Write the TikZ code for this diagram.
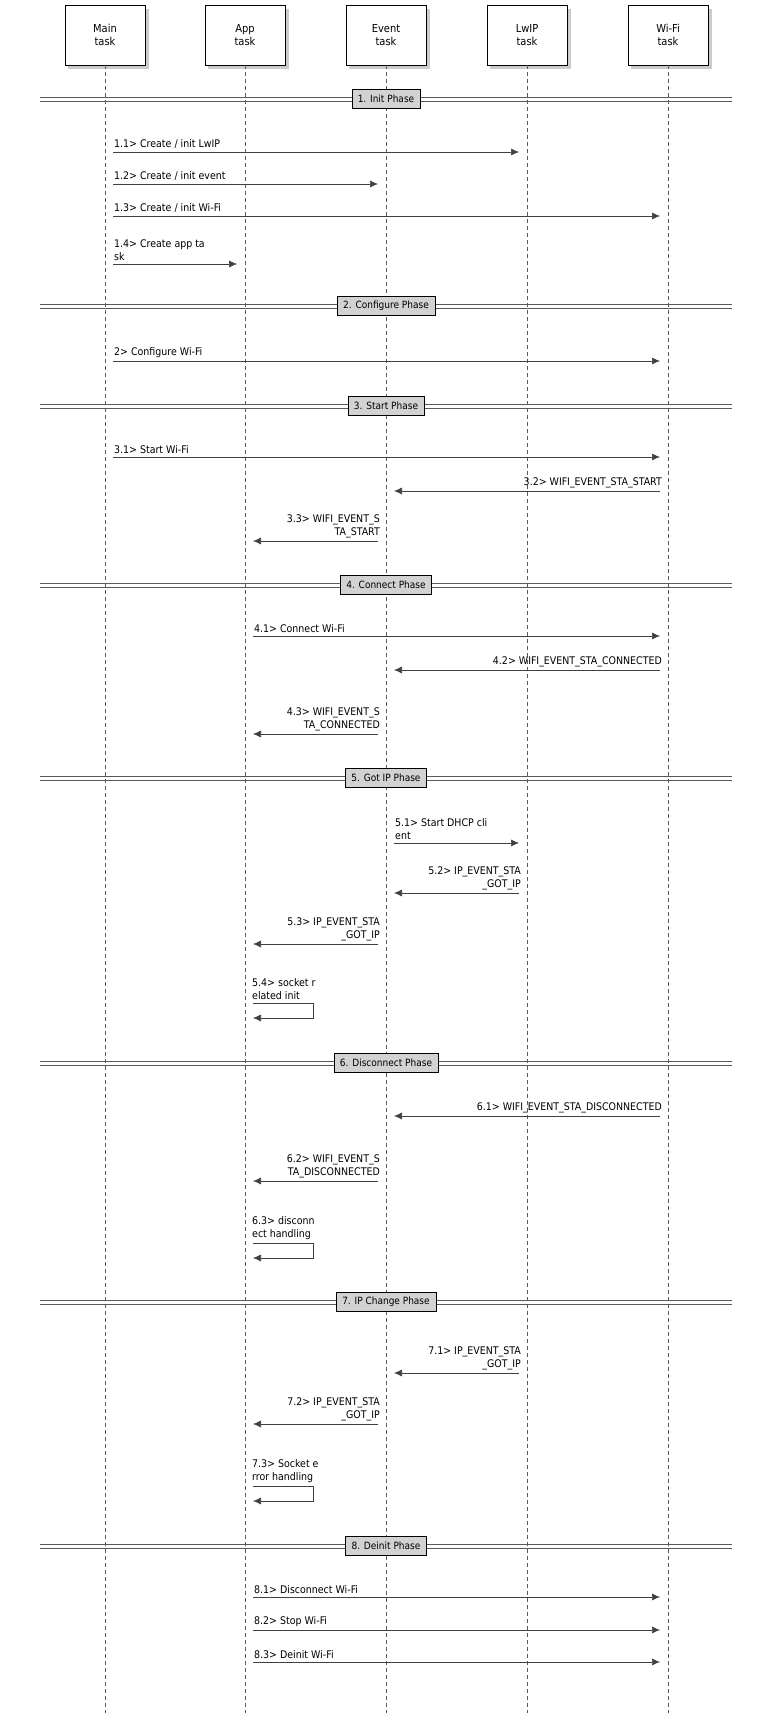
\documentclass[tikz,border=0pt]{standalone}
\usepackage{fontspec}
\setmainfont{DejaVu Sans Condensed}
\begin{document}
\begin{tikzpicture}[x=1pt,y=-1pt,
  task/.style={draw,fill=white,minimum width=80pt,minimum height=60pt,align=center,font=\fontsize{11}{13}\selectfont,line width=0.8pt},
  life/.style={gray!70!black,dashed,dash pattern=on 4pt off 3pt,line width=0.5pt},
  msg/.style={draw=black!75,line width=0.6pt,-{Latex[length=8pt,width=7pt]}},
  lbl/.style={inner sep=1pt,font=\fontsize{10.5}{13}\selectfont},
  phasebox/.style={draw,fill=gray!35,inner xsep=6pt,minimum height=19pt,font=\fontsize{10}{12}\selectfont}]
\usetikzlibrary{arrows.meta}
\useasboundingbox (0,0) rectangle (768,1713);
\foreach \n/\x/\t in {M/105/Main,A/245/App,E/386/Event,L/527/LwIP,W/668/Wi-Fi}{
  \fill[gray!40] (\x-37,9) rectangle (\x+44,69);
  \node[task] (\n) at (\x,35) {\t\\task};
  \coordinate (\n b) at (\x,1713);
  \draw[life] (\n.south) -- (\n b);
}
\newcommand{\phs}[3]{\draw[gray!70!black,line width=0.6pt] (40,#1-2) -- (732,#1-2) (40,#1+2) -- (732,#1+2);
  \node[phasebox] (#3) at (386,#1) {#2};}
\newcommand{\mR}[4]{\draw[msg] ({#2+8},#1) -- ({#3-8},#1);
  \node[lbl,anchor=south west,align=left] at ({#2+8},{#1-2}) {#4};}
\newcommand{\mL}[4]{\draw[msg] ({#2-8},#1) -- ({#3+8},#1);
  \node[lbl,anchor=south east,align=right] at ({#2-5},{#1-2}) {#4};}
\newcommand{\mS}[3]{\draw[msg] (253,#1) -- (313,#1) -- (313,{#1+15}) -- (253,{#1+15});
  \node[lbl,anchor=south west,align=left] at (251,{#1-2}) {#2\\#3};}
\phs{99}{1. Init Phase}{p1}
\mR{152}{105}{527}{1.1> Create / init LwIP}
\mR{184}{105}{386}{1.2> Create / init event}
\mR{216}{105}{668}{1.3> Create / init Wi-Fi}
\mR{264}{105}{245}{1.4> Create app ta\\sk}
\phs{306}{2. Configure Phase}{p2}
\mR{361}{105}{668}{2> Configure Wi-Fi}
\phs{406}{3. Start Phase}{p3}
\mR{457}{105}{668}{3.1> Start Wi-Fi}
\mL{491}{668}{386}{3.2> WIFI\_EVENT\_STA\_START}
\mL{541}{386}{245}{3.3> WIFI\_EVENT\_S\\TA\_START}
\phs{585}{4. Connect Phase}{p4}
\mR{636}{245}{668}{4.1> Connect Wi-Fi}
\mL{670}{668}{386}{4.2> WIFI\_EVENT\_STA\_CONNECTED}
\mL{734}{386}{245}{4.3> WIFI\_EVENT\_S\\TA\_CONNECTED}
\phs{778}{5. Got IP Phase}{p5}
\mR{843}{386}{527}{5.1> Start DHCP cli\\ent}
\mL{893}{527}{386}{5.2> IP\_EVENT\_STA\\\_GOT\_IP}
\mL{944}{386}{245}{5.3> IP\_EVENT\_STA\\\_GOT\_IP}
\mS{1003}{5.4> socket r}{elated init}
\phs{1063}{6. Disconnect Phase}{p6}
\mL{1116}{668}{386}{6.1> WIFI\_EVENT\_STA\_DISCONNECTED}
\mL{1181}{386}{245}{6.2> WIFI\_EVENT\_S\\TA\_DISCONNECTED}
\mS{1243}{6.3> disconn}{ect handling}
\phs{1302}{7. IP Change Phase}{p7}
\mL{1373}{527}{386}{7.1> IP\_EVENT\_STA\\\_GOT\_IP}
\mL{1424}{386}{245}{7.2> IP\_EVENT\_STA\\\_GOT\_IP}
\mS{1486}{7.3> Socket e}{rror handling}
\phs{1546}{8. Deinit Phase}{p8}
\mR{1597}{245}{668}{8.1> Disconnect Wi-Fi}
\mR{1630}{245}{668}{8.2> Stop Wi-Fi}
\mR{1662}{245}{668}{8.3> Deinit Wi-Fi}
\end{tikzpicture}
\end{document}
